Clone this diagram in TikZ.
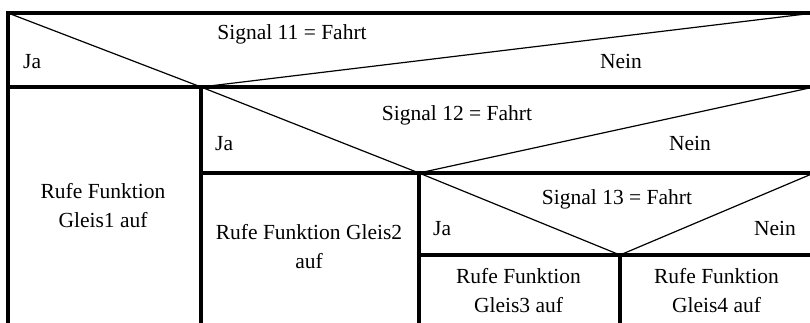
\documentclass[tikz,border=0pt]{standalone}
\usepackage{fontspec}
\setmainfont{Liberation Serif}
\begin{document}
\begin{tikzpicture}[x=1pt,y=-1pt,
  frame/.style={line width=3.6pt, line join=miter},
  diag/.style={line width=1.2pt, line join=miter},
  lbl/.style={font=\fontsize{21.5}{29}\selectfont, inner sep=0pt, anchor=base},
  blk/.style={lbl, align=center}]
\useasboundingbox (0,0) rectangle (810,323);
\clip (0,0) rectangle (810,323);
% corner coordinates
\coordinate (A0) at (8,13);
\coordinate (A1) at (814,13);
\coordinate (B0) at (8,87);
\coordinate (B1) at (201,87);
\coordinate (B2) at (814,87);
\coordinate (C1) at (419,173);
\coordinate (C2) at (814,173);
\coordinate (D0) at (419,255);
\coordinate (D1) at (620,255);
\coordinate (D2) at (814,255);
\coordinate (E0) at (8,330);
\coordinate (E1) at (201,330);
\coordinate (E2) at (419,330);
\coordinate (E3) at (620,330);
% frame
\draw[frame] (E0) -- (A0) -- (A1);
\draw[frame] (B0) -- (B2);
\draw[frame] (B1) -- (E1);
\draw[frame] (B1 |- C1) -- (C2);
\draw[frame] (C1) -- (E2);
\draw[frame] (D0) -- (D2);
\draw[frame] (D1) -- (E3);
% decision diagonals
\draw[diag] (A0) -- (B1) -- (A1);
\draw[diag] (B1) -- (C1) -- (B2);
\draw[diag] (C1) -- (D1) -- (C2);
% texts
\node[lbl] (q1) at (292,40) {Signal 11 = Fahrt};
\node[lbl, anchor=base west] (ja1) at (23,69) {Ja};
\node[lbl] (nein1) at (621,69) {Nein};
\node[lbl] (q2) at (457,121) {Signal 12 = Fahrt};
\node[lbl, anchor=base west] (ja2) at (215,150) {Ja};
\node[lbl] (nein2) at (690,150) {Nein};
\node[lbl] (q3) at (617,204) {Signal 13 = Fahrt};
\node[lbl, anchor=base west] (ja3) at (433,235) {Ja};
\node[lbl, anchor=base east] (nein3) at (796,235) {Nein};
\node[blk] (g1) at (103,227) {Rufe Funktion\\Gleis1 auf};
\node[blk] (g2) at (309,268) {Rufe Funktion Gleis2\\auf};
\node[blk] (g3) at (518.5,312) {Rufe Funktion\\Gleis3 auf};
\node[blk] (g4) at (716.5,312) {Rufe Funktion\\Gleis4 auf};
\end{tikzpicture}
\end{document}
